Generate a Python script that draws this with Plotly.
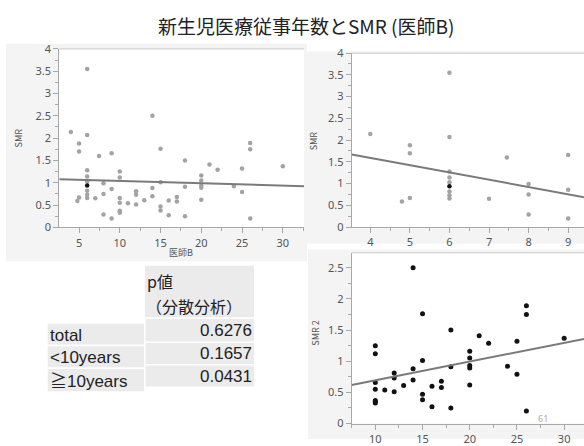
import plotly.graph_objects as go

# ---------------- data ----------------
title_text = "新生児医療従事年数とSMR (医師B)"

# < 10 years (top-right panel)
under10_x = [4, 4.8, 5, 5, 5, 6, 6, 6, 6, 6, 6, 6, 6, 6, 7, 7.45, 8, 8, 8, 9, 9, 9]
under10_y = [2.14, 0.59, 1.88, 1.70, 0.67, 3.55, 2.07, 1.28, 1.14, 1.03, 0.94, 0.82, 0.73, 0.66,
             0.65, 1.60, 0.99, 0.75, 0.29, 1.66, 0.86, 0.20]
under10_selected = 10  # highlighted (black) point

# >= 10 years (bottom-right panel)
over10_x = [10, 10, 10, 10, 10, 10, 10, 11, 12, 12, 12, 13, 14, 14, 14, 15, 15, 15, 15, 16, 16,
            17, 17, 18, 18, 18, 20, 20, 20, 20, 20, 21, 22, 24, 25, 25, 26, 26, 26, 30]
over10_y = [1.25, 1.12, 0.66, 0.55, 0.37, 0.35, 0.33, 0.54, 0.81, 0.73, 0.51, 0.61, 2.50, 0.88,
            0.70, 1.76, 1.01, 0.47, 0.38, 0.60, 0.27, 0.68, 0.58, 1.50, 0.91, 0.25, 1.16, 1.05,
            0.93, 0.89, 0.62, 1.41, 1.29, 0.92, 1.32, 0.79, 1.89, 1.75, 0.20, 1.37]

# total (top-left panel) = both groups
total_x = under10_x + over10_x
total_y = under10_y + over10_y

# fitted lines: (intercept, slope)
fit_total = (1.090, -0.0051)
fit_under10 = (2.261, -0.1675)
fit_over10 = (0.395, 0.0300)

# point label in bottom-right panel
label_text = "61"
label_pos = (27.8, 0.08)

# table
table_header = ["p値", "（分散分析）"]
row_labels = ["total", "<10years", "≧10years"]
p_values = ["0.6276", "0.1657", "0.0431"]

# axis titles
xtitle_total = "医師B"
ytitle_total = "SMR"
ytitle_under10 = "SMR"
ytitle_over10 = "SMR 2"

# ---------------- layout helpers ----------------
W, H = 584, 446


def PX(x):
    return x / W


def PY(y):
    return 1 - y / H


GRAY_PT = "#a3a3a3"
LINE_C = "#7a7a7a"
AXIS_C = "#a8a8a8"
TICK_FONT = dict(family="Noto Sans, DejaVu Sans", size=11, color="#555555")
PANEL_BG = "#f4f4f4"
CELL_BG = "#ebebeb"

fig = go.Figure()

# --- top-left: total ---
fig.add_trace(go.Scatter(x=total_x, y=total_y, mode="markers", xaxis="x", yaxis="y",
                         marker=dict(size=4.5, color=[("#111111" if i == under10_selected else GRAY_PT)
                                                      for i in range(len(total_x))]),
                         showlegend=False, hoverinfo="skip"))
xr1 = [2.58, 32.6]
fig.add_trace(go.Scatter(x=xr1, y=[fit_total[0] + fit_total[1] * v for v in xr1], mode="lines",
                         xaxis="x", yaxis="y", line=dict(color=LINE_C, width=2),
                         showlegend=False, hoverinfo="skip"))

# --- top-right: < 10 years ---
fig.add_trace(go.Scatter(x=under10_x, y=under10_y, mode="markers", xaxis="x2", yaxis="y2",
                         marker=dict(size=4.5, color=[("#111111" if i == under10_selected else GRAY_PT)
                                                      for i in range(len(under10_x))]),
                         showlegend=False, hoverinfo="skip"))
xr2 = [3.53, 9.4]
fig.add_trace(go.Scatter(x=xr2, y=[fit_under10[0] + fit_under10[1] * v for v in xr2], mode="lines",
                         xaxis="x2", yaxis="y2", line=dict(color=LINE_C, width=2),
                         showlegend=False, hoverinfo="skip"))

# --- bottom-right: >= 10 years ---
fig.add_trace(go.Scatter(x=over10_x, y=over10_y, mode="markers", xaxis="x3", yaxis="y3",
                         marker=dict(size=5, color="#111111"),
                         showlegend=False, hoverinfo="skip"))
xr3 = [7.5, 32.1]
fig.add_trace(go.Scatter(x=xr3, y=[fit_over10[0] + fit_over10[1] * v for v in xr3], mode="lines",
                         xaxis="x3", yaxis="y3", line=dict(color=LINE_C, width=2),
                         showlegend=False, hoverinfo="skip"))


def axis(domain, rng, dtick, minor_dtick, anchor):
    return dict(domain=domain, range=rng, dtick=dtick, tick0=0, anchor=anchor,
                showgrid=False, zeroline=False, showline=True, linecolor=AXIS_C, linewidth=1,
                ticks="outside", ticklen=5, tickcolor=AXIS_C, tickfont=TICK_FONT,
                minor=dict(dtick=minor_dtick, ticks="outside", ticklen=3, tickcolor=AXIS_C, showgrid=False),
                fixedrange=True)


fig.update_layout(
    width=W, height=H, margin=dict(l=0, r=0, t=0, b=0),
    paper_bgcolor="white", plot_bgcolor="white",
    xaxis=axis([PX(59.3), PX(304)], xr1, 5, 2.5, "y"),
    yaxis=axis([PY(227), PY(42.3)], [0, 4], 0.5, 0.25, "x"),
    xaxis2=axis([PX(351.7), 1.0], xr2, 1, 0.5, "y2"),
    yaxis2=axis([PY(226.7), PY(46.7)], [0, 4], 0.5, 0.25, "x2"),
    xaxis3=axis([PX(351.7), 1.0], xr3, 5, 2.5, "y3"),
    yaxis3=axis([PY(430), PY(253.3)], [0, 2.74], 0.5, 0.25, "x3"),
)

shapes = []
# gray panel frames (paper)
for (x0, y0, x1, y1) in [(6, 37, 307, 262), (305, 45, 584, 244), (308, 250, 584, 446)]:
    shapes.append(dict(type="rect", xref="paper", yref="paper", x0=PX(x0), x1=PX(x1),
                       y0=PY(y1), y1=PY(y0), fillcolor=PANEL_BG, line=dict(width=0), layer="below"))
# white plot areas + top border line
for xa, ya in [("x", "y"), ("x2", "y2"), ("x3", "y3")]:
    shapes.append(dict(type="rect", xref=f"{xa} domain", yref=f"{ya} domain", x0=0, x1=1, y0=0, y1=1,
                       fillcolor="white", line=dict(width=0), layer="below"))
    shapes.append(dict(type="line", xref=f"{xa} domain", yref=f"{ya} domain", x0=0, x1=1, y0=1, y1=1,
                       line=dict(color="#c8c8c8", width=1), layer="below"))

# table cells
shapes.append(dict(type="rect", xref="paper", yref="paper", x0=PX(145), x1=PX(254),
                   y0=PY(320), y1=PY(266.7), fillcolor=CELL_BG, line=dict(width=0), layer="below"))
label_rows = [(326.7, 348.3), (350, 371.7), (373.5, 396.7)]
value_rows = [(321.7, 345), (346.7, 368.3), (370, 391.7)]
for (a, b) in label_rows:
    shapes.append(dict(type="rect", xref="paper", yref="paper", x0=PX(47.7), x1=PX(144),
                       y0=PY(b), y1=PY(a), fillcolor=CELL_BG, line=dict(width=0), layer="below"))
for (a, b) in value_rows:
    shapes.append(dict(type="rect", xref="paper", yref="paper", x0=PX(145.7), x1=PX(254),
                       y0=PY(b), y1=PY(a), fillcolor=CELL_BG, line=dict(width=0), layer="below"))
fig.update_layout(shapes=shapes)

ann = []
# title
ann.append(dict(text=title_text, x=PX(306), y=PY(18), xref="paper", yref="paper",
                showarrow=False, xanchor="center", yanchor="middle",
                font=dict(family="Noto Sans CJK JP", size=19, color="#222222")))
# axis titles
small = dict(family="Noto Sans CJK JP, Noto Sans", size=9, color="#555555")
ann.append(dict(text=xtitle_total, x=PX(181), y=PY(252.5), xref="paper", yref="paper",
                showarrow=False, xanchor="center", yanchor="middle", font=small))
ann.append(dict(text=ytitle_total, x=PX(18), y=PY(135), xref="paper", yref="paper", textangle=-90,
                showarrow=False, xanchor="center", yanchor="middle", font=small))
ann.append(dict(text=ytitle_under10, x=PX(313), y=PY(138), xref="paper", yref="paper", textangle=-90,
                showarrow=False, xanchor="center", yanchor="middle", font=small))
ann.append(dict(text=ytitle_over10, x=PX(316), y=PY(337), xref="paper", yref="paper", textangle=-90,
                showarrow=False, xanchor="center", yanchor="middle", font=small))
# point label
ann.append(dict(text=label_text, x=label_pos[0], y=label_pos[1], xref="x3", yref="y3",
                showarrow=False, xanchor="center", yanchor="middle",
                font=dict(family="Noto Sans", size=9, color="#aaaaaa")))
# table text
tfont = dict(family="Liberation Sans, Noto Sans CJK JP", size=17, color="#222222")
jfont = dict(family="Noto Sans CJK JP", size=16, color="#222222")
ann.append(dict(text=table_header[0], x=PX(145), y=PY(283), xref="paper", yref="paper",
                showarrow=False, xanchor="left", yanchor="middle", font=jfont))
ann.append(dict(text=table_header[1], x=PX(144), y=PY(308), xref="paper", yref="paper",
                showarrow=False, xanchor="left", yanchor="middle", font=jfont))
for i, (lab, val) in enumerate(zip(row_labels, p_values)):
    ly = (label_rows[i][0] + label_rows[i][1]) / 2 + 1
    vy = (value_rows[i][0] + value_rows[i][1]) / 2
    ann.append(dict(text=lab, x=PX(48), y=PY(ly), xref="paper", yref="paper",
                    showarrow=False, xanchor="left", yanchor="middle", font=tfont))
    ann.append(dict(text=val, x=PX(254), y=PY(vy), xref="paper", yref="paper",
                    showarrow=False, xanchor="right", yanchor="middle", font=tfont))
fig.update_layout(annotations=ann)

fig.write_html("out.html")
